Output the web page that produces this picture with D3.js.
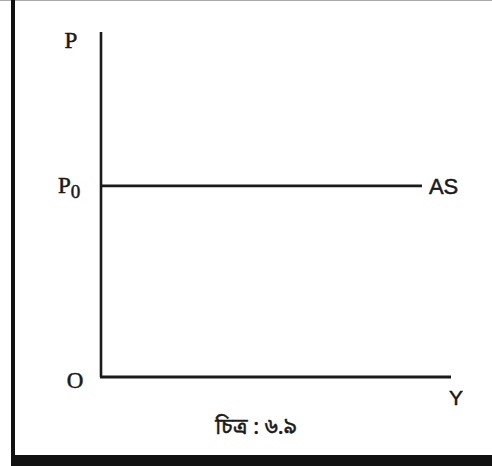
<!DOCTYPE html>
<html>
<head>
<meta charset="utf-8">
<script src="https://cdn.jsdelivr.net/npm/d3@7"></script>
<style>
    body { margin: 0; background: #fff; }
    text { font-family: "Liberation Serif", "DejaVu Serif", serif; fill: #1a1a1a; stroke: #1a1a1a; stroke-width: 0.5; }
</style>
</head>
<body>
<script>
// diagram values (abstract units 0..100 on both axes)
const axisMax = [100, 100];
const priceLevel = [55.4];          // P0, flat AS curve
const asEnd = [91.7];               // where AS line stops on Y axis
const labels = ["P", "Y", "O", "AS"];
const caption = ["চিত্র : ৬.৯"];

const width = 492, height = 466;

const svg = d3.select("body")
    .append("svg")
    .attr("width", width)
    .attr("height", height);

// frame of the scanned figure
svg.append("line").attr("x1", 0).attr("x2", width).attr("y1", 0.5).attr("y2", 0.5)
    .attr("stroke", "#aaa").attr("stroke-width", 1);
svg.append("rect").attr("x", 11).attr("y", 0).attr("width", 4).attr("height", 460).attr("fill", "#111");
svg.append("rect").attr("x", 11).attr("y", 455).attr("width", width - 11).attr("height", 11).attr("fill", "#111");

//Scales
const x = d3.scaleLinear().domain([0, axisMax[0]]).range([101, 451]);
const y = d3.scaleLinear().domain([0, axisMax[1]]).range([377, 32]);

const g = svg.append("g");

//Axes
g.append("line")
    .attr("x1", x(0)).attr("x2", x(0))
    .attr("y1", y(0)).attr("y2", y(axisMax[1]))
    .attr("stroke", "#1a1a1a").attr("stroke-width", 2.6);
g.append("line")
    .attr("x1", x(0) - 1).attr("x2", x(axisMax[0]))
    .attr("y1", y(0)).attr("y2", y(0))
    .attr("stroke", "#1a1a1a").attr("stroke-width", 3);

//AS line
g.selectAll(".as")
    .data(priceLevel)
    .enter()
    .append("line")
    .attr("class", "as")
    .attr("x1", x(0)).attr("x2", x(asEnd[0]))
    .attr("y1", d => y(d)).attr("y2", d => y(d))
    .attr("stroke", "#1a1a1a").attr("stroke-width", 2.6);

//Labels
g.append("text").attr("x", x(0) - 30).attr("y", y(axisMax[1]) + 16)
    .attr("text-anchor", "middle").style("font-size", "23px").text(labels[0]);

const p0 = g.append("text").attr("x", x(0) - 43).attr("y", y(priceLevel[0]) + 7)
    .style("font-size", "23px");
p0.append("tspan").text("P");
p0.append("tspan").attr("dy", 5).style("font-size", "19px").text("0");

g.append("text").attr("x", x(0) - 26).attr("y", y(0) + 11)
    .attr("text-anchor", "middle").style("font-size", "23px").text(labels[2]);

g.append("text").attr("x", x(axisMax[0]) + 5).attr("y", y(0) + 28)
    .attr("text-anchor", "middle").style("font-family", "'Liberation Sans', sans-serif")
    .style("font-size", "21px").text(labels[1]);

g.append("text").attr("x", x(asEnd[0]) + 7).attr("y", y(priceLevel[0]) + 8)
    .style("font-family", "'Liberation Sans', sans-serif")
    .style("font-size", "22px").text(labels[3]);

//Caption
g.append("text").attr("x", 256).attr("y", 434)
    .attr("text-anchor", "middle").style("font-size", "22px")
    .style("font-family", "'Noto Sans Bengali', 'Noto Serif Bengali', 'Lohit Bengali', 'Noto Sans', sans-serif")
    .text(caption[0]);
</script>
</body>
</html>
